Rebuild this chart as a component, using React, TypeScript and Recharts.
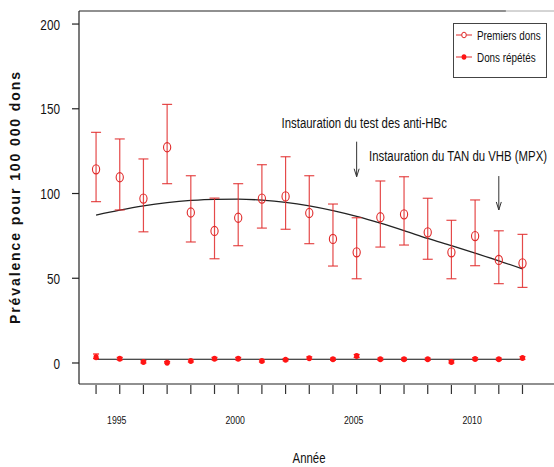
import React from 'react';
import {
  ComposedChart, Line, XAxis, YAxis, ErrorBar, ReferenceLine, ReferenceDot, Legend,
} from 'recharts';

const years = [1994, 1995, 1996, 1997, 1998, 1999, 2000, 2001, 2002, 2003, 2004, 2005, 2006, 2007, 2008, 2009, 2010, 2011, 2012];

// Premiers dons
const premiers = [114.3, 109.6, 97, 127.3, 88.8, 77.9, 85.7, 97, 98.3, 88.5, 73.2, 65.3, 86, 87.7, 77.1, 65.3, 74.9, 60.8, 58.8];
const premiersLow = [95.2, 90.3, 77.4, 105.8, 71.4, 61.5, 69.2, 79.6, 78.9, 70.4, 57.2, 49.7, 68.4, 69.6, 61.2, 49.7, 57.4, 46.8, 44.6];
const premiersHigh = [136.1, 132.2, 120.4, 152.6, 110.5, 97.3, 105.8, 117, 121.7, 110.5, 93.8, 85.7, 107.4, 109.9, 97.2, 84.2, 96.2, 78, 75.9];
const premiersFit = [87.3, 90.2, 92.7, 94.6, 95.9, 96.6, 96.7, 96.1, 94.8, 92.7, 89.9, 86.5, 82.5, 78.1, 73.5, 69.2, 64.8, 60.3, 55.5];

// Dons répétés
const repetes = [3.4, 2.5, 0.6, 0.2, 1.2, 2.5, 2.5, 1.2, 1.9, 2.8, 2.2, 4.1, 2.2, 2.2, 2.2, 0.6, 2.4, 2.2, 2.9];
const repetesLow = [2.6, 1.8, 0, 0, 0.6, 1.8, 1.8, 0.6, 1.3, 2.1, 1.6, 3.3, 1.6, 1.6, 1.6, 0, 1.8, 1.6, 2.2];
const repetesHigh = [5.3, 3.3, 1.3, 0.9, 1.9, 3.3, 3.3, 1.9, 2.6, 3.6, 2.9, 5, 2.9, 2.9, 2.9, 1.3, 3.1, 2.9, 3.7];
const repetesFit = [2.2, 2.2, 2.2, 2.2, 2.2, 2.2, 2.2, 2.2, 2.2, 2.2, 2.2, 2.2, 2.2, 2.2, 2.2, 2.2, 2.2, 2.2, 2.2];

const yTicks = [0, 50, 100, 150, 200];
const xLabelYears = [1995, 2000, 2005, 2010];
const seriesNames = ['Premiers dons', 'Dons répétés'];
const events = [
  { year: 2005, label: 'Instauration du test des anti-HBc' },
  { year: 2011, label: 'Instauration du TAN du VHB (MPX)' },
];

const data = years.map((year, i) => ({
  year,
  premiers: premiers[i],
  errP: [premiers[i] - premiersLow[i], premiersHigh[i] - premiers[i]],
  fitP: premiersFit[i],
  repetes: repetes[i],
  errR: [repetes[i] - repetesLow[i], repetesHigh[i] - repetes[i]],
  fitR: repetesFit[i],
}));

const X_MIN = 1993.28;
const X_MAX = 2013.33;
const Y_MIN = -12.4;
const Y_MAX = 207.7;

const FONT = "'Liberation Sans', Arial, sans-serif";
const SQUEEZE = 0.76; // the original uses a horizontally condensed Arial
const RED = '#e02a2a';
const RED_DOT = '#ff1414';

// condensed text: Arial squeezed horizontally
const Narrow = ({ x, y, size, anchor = 'start', dy, children }: any) => (
  <text transform={`translate(${x},${y}) scale(${SQUEEZE},1)`} textAnchor={anchor} dy={dy}
    fontSize={size} fontFamily={FONT} fill="#111">
    {children}
  </text>
);

const XTick = (props: any) => {
  const { x, y, payload } = props;
  const yr = payload.value;
  return (
    <g>
      <line x1={x} x2={x} y1={y + 1} y2={y + 10} stroke="#333" strokeWidth={1.2} />
      {xLabelYears.includes(yr) && <Narrow x={x - 3} y={y + 40} size={11.5} anchor="middle">{yr}</Narrow>}
    </g>
  );
};

const YTick = (props: any) => {
  const { x, y, payload } = props;
  return <Narrow x={x} y={y} size={15.5} anchor="end" dy="0.36em">{payload.value}</Narrow>;
};

const openDot = (p: any) => (
  <ellipse key={`p${p.index}`} cx={p.cx} cy={p.cy} rx={3.6} ry={4.6} fill="none" stroke={RED} strokeWidth={1.1} />
);

const fullDot = (p: any) => (
  <ellipse key={`r${p.index}`} cx={p.cx} cy={p.cy} rx={2.6} ry={3} fill={RED_DOT} stroke="none" />
);

const arrowHead = (p: any) => (
  <path d={`M${p.cx - 2.5},${p.cy - 8} L${p.cx},${p.cy} L${p.cx + 2.5},${p.cy - 8}`} fill="none" stroke="#333" strokeWidth={1} />
);

const eventText = (label: string) => (p: any) => (
  <Narrow x={p.cx} y={p.cy} size={15}>{label}</Narrow>
);

const LegendBox = () => (
  <svg width={94} height={55} style={{ display: 'block' }}>
    <rect x={0.5} y={0.5} width={93} height={54} fill="#fff" stroke="#444" strokeWidth={1} />
    {seriesNames.map((name, i) => {
      const cy = 12 + i * 22;
      return (
        <g key={name}>
          <line x1={3} x2={19} y1={cy} y2={cy} stroke={RED} strokeWidth={1} />
          {i === 0
            ? <ellipse cx={11} cy={cy} rx={2.3} ry={2.8} fill="#fff" stroke={RED} strokeWidth={1} />
            : <ellipse cx={11} cy={cy} rx={2.4} ry={2.8} fill={RED_DOT} />}
          <Narrow x={24} y={cy} size={13} dy="0.35em">{name}</Narrow>
        </g>
      );
    })}
  </svg>
);

const yTitle = () => (
  <text transform="translate(20,198) rotate(-90)" textAnchor="middle" fontSize={14} fontWeight="bold"
    fontFamily={FONT} fill="#111" textLength={252} lengthAdjust="spacing">
    Prévalence pour 100 000 dons
  </text>
);

const xTitle = () => <Narrow x={309} y={463} size={15} anchor="middle">Année</Narrow>;

export default function App() {
  return (
    <div style={{ position: 'absolute', left: 0, top: 0, background: '#fff' }}>
      <ComposedChart width={554} height={467} data={data} margin={{ top: 11, right: 0, bottom: 0, left: 0 }}>
        <XAxis dataKey="year" type="number" domain={[X_MIN, X_MAX]} ticks={years} allowDataOverflow
          axisLine={false} tickLine={false} tickSize={0} tickMargin={0} height={83} tick={XTick}
          interval={0} label={xTitle} />
        <YAxis type="number" domain={[Y_MIN, Y_MAX]} ticks={yTicks} allowDataOverflow width={79}
          axisLine={{ stroke: '#222', strokeWidth: 1.2 }} tickLine={{ stroke: '#222', strokeWidth: 1.2 }}
          tickSize={7} tickMargin={12} tick={YTick} interval={0} label={yTitle} />
        <ReferenceLine segment={[{ x: X_MIN, y: Y_MAX }, { x: 2011.3, y: Y_MAX }]} stroke="#222" strokeWidth={1.2} />
        <ReferenceLine segment={[{ x: 2011.3, y: Y_MAX }, { x: X_MAX, y: Y_MAX }]} stroke="#aaa" strokeWidth={1} />
        <ReferenceLine y={Y_MIN} stroke="#222" strokeWidth={1.2} />
        <Line dataKey="fitP" type="monotone" stroke="#222" strokeWidth={1.3} dot={false} legendType="none" isAnimationActive={false} />
        <Line dataKey="fitR" type="linear" stroke="#111" strokeWidth={1.2} dot={false} legendType="none" isAnimationActive={false} />
        <Line dataKey="premiers" name={seriesNames[0]} stroke="none" dot={openDot} activeDot={false} isAnimationActive={false}>
          <ErrorBar dataKey="errP" width={5} stroke={RED} strokeOpacity={0.85} strokeWidth={1.2} direction="y" isAnimationActive={false} />
        </Line>
        <Line dataKey="repetes" name={seriesNames[1]} stroke="none" dot={fullDot} activeDot={false} isAnimationActive={false}>
          <ErrorBar dataKey="errR" width={3} stroke={RED_DOT} strokeWidth={1.2} direction="y" isAnimationActive={false} />
        </Line>
        <ReferenceLine segment={[{ x: events[0].year, y: 130.6 }, { x: events[0].year, y: 109.9 }]} stroke="#333" strokeWidth={1} />
        <ReferenceDot x={events[0].year} y={109.9} r={0} shape={arrowHead} />
        <ReferenceDot x={2001.83} y={138.6} r={0} shape={eventText(events[0].label)} />
        <ReferenceLine segment={[{ x: events[1].year, y: 110.3 }, { x: events[1].year, y: 90.3 }]} stroke="#333" strokeWidth={1} />
        <ReferenceDot x={events[1].year} y={90.3} r={0} shape={arrowHead} />
        <ReferenceDot x={2005.52} y={119.2} r={0} shape={eventText(events[1].label)} />
        <Legend layout="horizontal" verticalAlign="middle" align="center" content={LegendBox}
          wrapperStyle={{ left: 453, top: 23, width: 94, height: 55 }} />
      </ComposedChart>
    </div>
  );
}
